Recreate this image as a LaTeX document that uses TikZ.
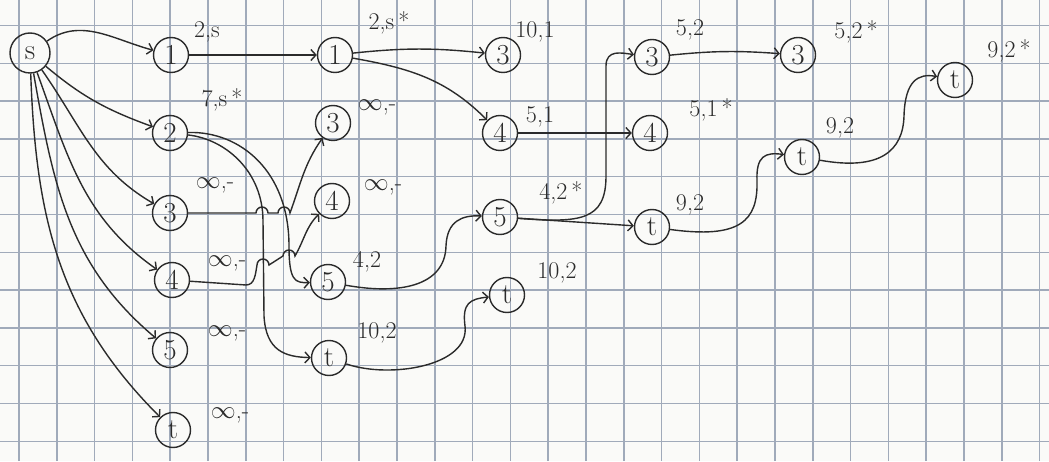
\documentclass[tikz,border=0pt]{standalone}
\usetikzlibrary{arrows.meta}
\definecolor{pnInk}{HTML}{2B2B2B}
\definecolor{pnGrid}{HTML}{A0AABA}
\definecolor{pnPaper}{HTML}{FAFAF8}

\begin{document}
\begin{tikzpicture}[x=1pt,y=1pt,line width=1.4pt,
                    >={Straight Barb[length=5pt,width=11pt]},
                    vtx/.style={draw=pnInk,circle,minimum size=35pt,inner sep=0pt,
                                text=pnInk,font=\fontsize{29}{29}\selectfont},
                    tag/.style={text=pnInk,font=\fontsize{24}{24}\selectfont},
                    link/.style={->,draw=pnInk}]
  \useasboundingbox (0,0) rectangle (1049,461);
  \fill[pnPaper] (0,0) rectangle (1049,461);
  % squared paper
  \foreach \gx in {0,...,27}
    \draw[pnGrid,line width=1.5pt] (19+37.8*\gx,0) -- (19+37.8*\gx,461);
  \foreach \gy in {0,...,11}
    \draw[pnGrid,line width=1.5pt] (0,435.5-37.8*\gy) -- (1049,435.5-37.8*\gy);

  \node[vtx,minimum size=40pt] (s) at (30,408) {s};
  \node[vtx] (c1n1) at (171,406) {1};
  \node[vtx] (c1n2) at (170,328) {2};
  \node[vtx] (c1n3) at (170,248) {3};
  \node[vtx] (c1n4) at (172,181) {4};
  \node[vtx] (c1n5) at (170,111) {5};
  \node[vtx] (c1t) at (173,31) {t};
  \node[vtx] (c2n1) at (335,406) {1};
  \node[vtx] (c2n3) at (333,338) {3};
  \node[vtx] (c2n4) at (332,260) {4};
  \node[vtx] (c2n5) at (328,179) {5};
  \node[vtx] (c2t) at (329,103) {t};
  \node[vtx] (c3n3) at (503,406) {3};
  \node[vtx] (c3n4) at (500,328) {4};
  \node[vtx] (c3n5) at (500,244) {5};
  \node[vtx] (c3t) at (507,166) {t};
  \node[vtx] (c4n3) at (652,404) {3};
  \node[vtx] (c4n4) at (650,328) {4};
  \node[vtx] (c4t) at (652,234) {t};
  \node[vtx] (c5n3) at (798,406) {3};
  \node[vtx] (c5t) at (802,304) {t};
  \node[vtx] (c6t) at (955,381) {t};

  \node[tag] (l-c1n1) at (207,429) {2,s};
  \node[tag] (l-c1n2) at (222,361) {7,s\,*};
  \node[tag] (l-c1n3) at (215,276) {$\infty$,-};
  \node[tag] (l-c1n4) at (227,198) {$\infty$,-};
  \node[tag] (l-c1n5) at (227,128) {$\infty$,-};
  \node[tag] (l-c1t) at (230,46) {$\infty$,-};
  \node[tag] (l-c2n1) at (389,438) {2,s\,*};
  \node[tag] (l-c2n3) at (377,354) {$\infty$,-};
  \node[tag] (l-c2n4) at (383,274) {$\infty$,-};
  \node[tag] (l-c2n5) at (367,199) {4,2};
  \node[tag] (l-c2t) at (377,128) {10,2};
  \node[tag] (l-c3n3) at (535,429) {10,1};
  \node[tag] (l-c3n4) at (540,344) {5,1};
  \node[tag] (l-c3n5) at (561,268) {4,2\,*};
  \node[tag] (l-c3t) at (557,188) {10,2};
  \node[tag] (l-c4n3) at (690,431) {5,2};
  \node[tag] (l-c4n4) at (711,351) {5,1\,*};
  \node[tag] (l-c4t) at (690,256) {9,2};
  \node[tag] (l-c5n3) at (856,429) {5,2\,*};
  \node[tag] (l-c5t) at (840,333) {9,2};
  \node[tag] (l-c6t) at (1009,410) {9,2\,*};

  \draw[link] (s) to[out=35,in=165] (c1n1);
  \draw[link] (s) to[out=-40,in=160] (c1n2);
  \draw[link] (s) to[out=-55,in=150] (c1n3);
  \draw[link] (s) to[out=-70,in=145] (c1n4);
  \draw[link] (s) to[out=-80,in=140] (c1n5);
  \draw[link] (s) to[out=-88,in=135] (c1t);
  \draw[link] (c1n1) -- (c2n1);
  \draw[link] (c1n2) .. controls (240,330) and (289,290) .. (289,215)
              .. controls (289,180) and (295,178) .. (c2n5);
  \draw[link] (c1n2) .. controls (225,322) and (263,290) .. (263,240) -- (264,145)
              .. controls (266,110) and (285,104) .. (c2t);
  % these two hop over the lines coming down from node 2
  \draw[link] (c1n3) -- (256,248) arc[start angle=180,end angle=0,radius=6]
              -- (278,248) arc[start angle=180,end angle=0,radius=6]
              to[out=70,in=235] (c2n3);
  \draw[link] (c1n4) -- (246,176) to[out=0,in=260] (257,196)
              arc[start angle=180,end angle=0,radius=6] -- (283,205)
              arc[start angle=180,end angle=0,radius=6] to[out=60,in=225] (c2n4);
  \draw[link] (c2n1) to[bend left=6] (c3n3);
  \draw[link] (c2n1) to[out=-10,in=135] (c3n4);
  \draw[link] (c2n5) .. controls (400,166) and (445,175) .. (446,215)
              .. controls (447,240) and (462,246) .. (c3n5);
  \draw[link] (c2t) .. controls (390,82) and (470,95) .. (465,135)
              .. controls (462,158) and (470,162) .. (c3t);
  \draw[link] (c3n4) -- (c4n4);
  \draw[link] (c3n5) .. controls (580,238) and (606,240) .. (606,285) -- (606,395)
              .. controls (606,412) and (622,408) .. (c4n3);
  \draw[link] (c3n5) -- (c4t);
  \draw[link] (c4n3) to[bend left=5] (c5n3);
  \draw[link] (c4t) .. controls (740,222) and (758,240) .. (757,280)
              .. controls (756,305) and (765,309) .. (c5t);
  \draw[link] (c5t) .. controls (880,290) and (903,310) .. (904,345)
              .. controls (905,380) and (918,388) .. (c6t);
\end{tikzpicture}
\end{document}
